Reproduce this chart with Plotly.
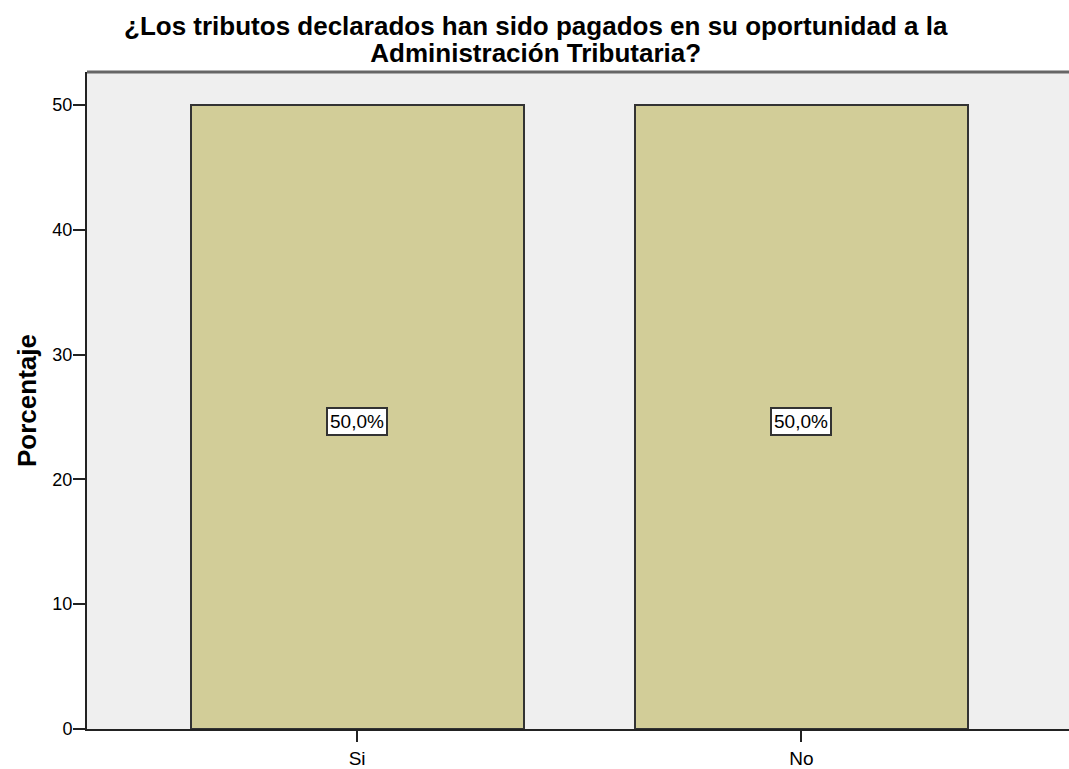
import plotly.graph_objects as go

categories = ["Si", "No"]
percentages = [50.0, 50.0]
labels = ["50,0%", "50,0%"]
title_lines = ["¿Los tributos declarados han sido pagados en su oportunidad a la",
               "Administración Tributaria?"]
y_ticks = [0, 10, 20, 30, 40, 50]

FONT = "Liberation Sans, Arial, sans-serif"

fig = go.Figure()
fig.add_trace(go.Bar(
    x=categories, y=percentages, width=0.75,
    marker=dict(color="#D2CD98", line=dict(color="#333333", width=2)),
    hoverinfo="skip",
))

for c, v, t in zip(categories, percentages, labels):
    fig.add_annotation(x=c, y=v / 2, yshift=-5, text=t, showarrow=False,
                       font=dict(family=FONT, size=19, color="#000"),
                       bgcolor="#FFFFFF", bordercolor="#333333", borderwidth=2, borderpad=2)

title_text = "<br>".join("<span style='font-size:26px'><b>" + s + "</b></span>" for s in title_lines)
fig.add_annotation(xref="paper", yref="paper", x=0.4577, y=1.0, text=title_text,
                   showarrow=False, xanchor="center", yanchor="middle", yshift=33,
                   font=dict(family=FONT, size=21, color="#000"))

fig.add_shape(type="line", xref="paper", yref="paper", x0=0, x1=1, y0=1, y1=1,
              line=dict(color="#666666", width=3))

fig.update_layout(
    width=1069, height=769,
    margin=dict(l=87, r=0, t=72, b=36),
    paper_bgcolor="#FFFFFF", plot_bgcolor="#EFEFEF",
    showlegend=False,
    bargap=0,
    xaxis=dict(type="category", range=[-0.608, 1.6025], showline=True, linecolor="#222",
               linewidth=2, ticks="outside", ticklen=11, tickcolor="#222", tickwidth=2,
               tickfont=dict(family=FONT, size=19, color="#000"),
               showgrid=False, zeroline=False, fixedrange=True),
    yaxis=dict(range=[0, 52.63], tickvals=y_ticks, showline=True, linecolor="#222",
               linewidth=2, ticks="outside", ticklen=12, tickcolor="#222", tickwidth=2,
               tickfont=dict(family=FONT, size=18, color="#000"),
               ticklabelstandoff=-3,
               showgrid=False, zeroline=False,
               title=dict(text="<b>Porcentaje</b>", standoff=8,
                          font=dict(family=FONT, size=26, color="#000"))),
)

fig.write_html("out.html", config={"displayModeBar": False},
               post_script="document.body.style.margin='0';document.body.style.overflow='hidden';")
